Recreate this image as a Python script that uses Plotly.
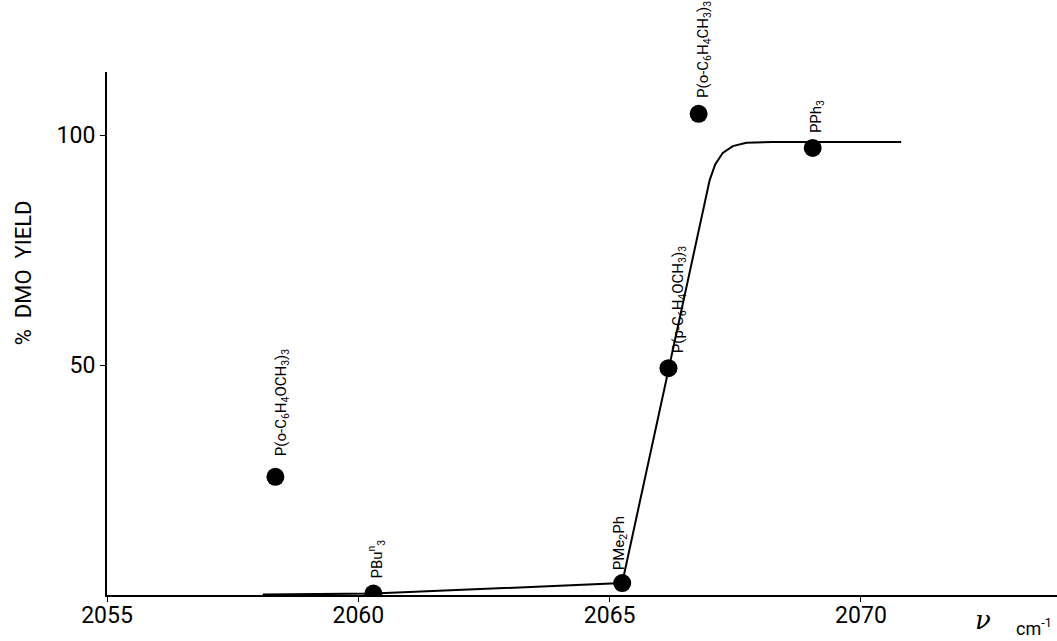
import plotly.graph_objects as go

# ---- data ----
ligands = ["P(o-C<sub>6</sub>H<sub>4</sub>OCH<sub>3</sub>)<sub>3</sub>",
           "PBu<sup>n</sup><sub>3</sub>",
           "PMe<sub>2</sub>Ph",
           "P(p-C<sub>6</sub>H<sub>4</sub>OCH<sub>3</sub>)<sub>3</sub>",
           "P(o-C<sub>6</sub>H<sub>4</sub>CH<sub>3</sub>)<sub>3</sub>",
           "PPh<sub>3</sub>"]
nu_cm = [2058.35, 2060.3, 2065.25, 2066.17, 2066.77, 2069.04]
dmo_yield = [25.7, 0.3, 2.6, 49.3, 104.6, 97.2]

curve_nu = [2058.1, 2060.3, 2065.25, 2066.17, 2066.99, 2067.1, 2067.25, 2067.45, 2067.72, 2068.24, 2070.8]
curve_yield = [0.1, 0.3, 2.6, 49.3, 90.2, 93.6, 96.1, 97.6, 98.3, 98.5, 98.5]

x_ticks = [2055, 2060, 2065, 2070]
y_ticks = [50, 100]

# label offsets (pixels): (xshift, yshift)
label_shift = [(6, 19), (3, 13), (-2, 11), (10, 13), (6, 14), (5, 13)]

FONT = "Roboto, Liberation Sans, sans-serif"

fig = go.Figure()
fig.add_trace(go.Scatter(x=curve_nu, y=curve_yield, mode="lines",
                         line=dict(color="black", width=2),
                         hoverinfo="skip", showlegend=False))
fig.add_trace(go.Scatter(x=nu_cm, y=dmo_yield, mode="markers",
                         marker=dict(color="black", size=18),
                         showlegend=False))

for name, xv, yv, (dx, dy) in zip(ligands, nu_cm, dmo_yield, label_shift):
    fig.add_annotation(x=xv, y=yv, text=name, showarrow=False, textangle=-90,
                       xanchor="center", yanchor="bottom", xshift=dx, yshift=dy,
                       font=dict(family=FONT, size=15, color="black"))

fig.add_annotation(xref="paper", yref="paper", x=-0.0885, y=0.617,
                   text="%  DMO  YIELD", textangle=-90, showarrow=False,
                   xanchor="center", yanchor="middle",
                   font=dict(family=FONT, size=22, color="black"))
fig.add_annotation(xref="paper", yref="paper", x=0.922, y=-0.048,
                   text="<i>ν</i>", showarrow=False, xanchor="center", yanchor="middle",
                   font=dict(family="DejaVu Serif, serif", size=26, color="black"))
fig.add_annotation(xref="paper", yref="paper", x=0.976, y=-0.062,
                   text="cm<sup>-1</sup>", showarrow=False, xanchor="center", yanchor="middle",
                   font=dict(family=FONT, size=18, color="black"))

fig.update_layout(
    width=1057, height=641,
    margin=dict(l=107, r=0, t=72, b=46),
    plot_bgcolor="white", paper_bgcolor="white",
    xaxis=dict(range=[2055, 2073.9], tickvals=x_ticks, ticktext=[str(t) for t in x_ticks],
               showline=True, linecolor="black", linewidth=2, ticks="outside", ticklen=5,
               tickcolor="black", showgrid=False, zeroline=False, ticklabelstandoff=-7,
               tickfont=dict(family=FONT, size=23, color="black")),
    yaxis=dict(range=[0, 113.7], tickvals=y_ticks, ticktext=[str(t) for t in y_ticks],
               showline=True, linecolor="black", linewidth=2, ticks="outside", ticklen=5,
               tickcolor="black", showgrid=False, zeroline=False,
               tickfont=dict(family=FONT, size=23, color="black")),
)

fig.write_html("out.html", config={"displayModeBar": False},
               post_script="document.body.style.margin='0px';document.body.style.overflow='hidden';")
